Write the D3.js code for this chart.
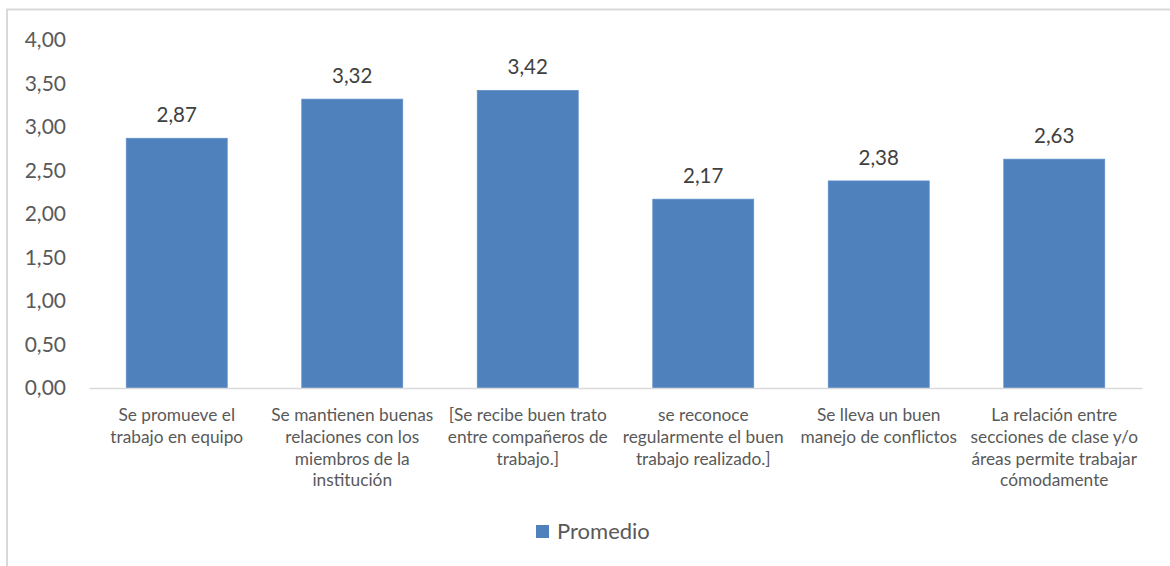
<!DOCTYPE html>
<html>
<head>
<meta charset="utf-8">
<script src="https://cdn.jsdelivr.net/npm/d3@7/dist/d3.min.js"></script>
<style>
  html, body { margin: 0; padding: 0; background: #fff; }
  svg { display: block; }
</style>
</head>
<body>
<svg id="chart" width="1170" height="566"></svg>
<script>
// Survey statements and their average scores
const categories = [
  ["Se promueve el", "trabajo en equipo"],
  ["Se mantienen buenas", "relaciones con los", "miembros de la", "institución"],
  ["[Se recibe buen trato", "entre compañeros de", "trabajo.]"],
  ["se reconoce", "regularmente el buen", "trabajo realizado.]"],
  ["Se lleva un buen", "manejo de conflictos"],
  ["La relación entre", "secciones de clase y/o", "áreas permite trabajar", "cómodamente"]
];
const promedio = [2.87, 3.32, 3.42, 2.17, 2.38, 2.63];
const yTicks = [0, 0.5, 1, 1.5, 2, 2.5, 3, 3.5, 4];
const seriesName = "Promedio";

const FONT = "Lato, 'Open Sans', sans-serif";
const svg = d3.select("#chart");
const W = 1170, H = 566;

// chart area frame (top and left edges visible)
svg.append("path")
  .attr("d", `M7,${H} L7,9.5 L${W},9.5`)
  .attr("fill", "none")
  .attr("stroke", "#d9d9d9")
  .attr("stroke-width", 2);

const plot = { left: 89, right: 1142, top: 40, bottom: 388 };

const x = d3.scaleBand()
  .domain(d3.range(categories.length))
  .range([plot.left, plot.right])
  .paddingInner(0.425)
  .paddingOuter(0.2125);

const y = d3.scaleLinear()
  .domain([0, 4])
  .range([plot.bottom, plot.top]);

const fmt = v => d3.format(".2f")(v).replace(".", ",");

// y axis labels
const yAxis = d3.axisLeft(y).tickValues(yTicks).tickFormat(fmt).tickSize(0).tickPadding(0);
const yg = svg.append("g").attr("transform", "translate(66,0)").call(yAxis);
yg.select(".domain").remove();
yg.selectAll("text")
  .attr("font-family", FONT)
  .attr("font-size", 21)
  .attr("fill", "#595959");

// bars
svg.append("g").selectAll("rect")
  .data(promedio)
  .join("rect")
  .attr("x", (d, i) => x(i))
  .attr("y", d => y(d))
  .attr("width", x.bandwidth())
  .attr("height", d => y(0) - y(d))
  .attr("fill", "#4f81bd")
  .attr("stroke", "#5b8cc6")
  .attr("stroke-width", 0.8);

// value labels
svg.append("g").selectAll("text")
  .data(promedio)
  .join("text")
  .attr("x", (d, i) => x(i) + x.bandwidth() / 2)
  .attr("y", d => y(d) - 16)
  .attr("text-anchor", "middle")
  .attr("font-family", FONT)
  .attr("font-size", 20.5)
  .attr("fill", "#404040")
  .text(fmt);

// baseline axis
const xAxis = d3.axisBottom(x).tickSize(0).tickFormat("");
const xg = svg.append("g").attr("transform", `translate(0,${plot.bottom})`).call(xAxis);
xg.select(".domain").attr("stroke", "#d9d9d9").attr("stroke-width", 1.5);

// category labels (multi-line)
const catG = svg.append("g");
categories.forEach((lines, i) => {
  const t = catG.append("text")
    .attr("text-anchor", "middle")
    .attr("font-family", FONT)
    .attr("font-size", 17.3)
    .attr("fill", "#595959");
  lines.forEach((ln, j) => {
    t.append("tspan")
      .attr("x", x(i) + x.bandwidth() / 2)
      .attr("y", plot.bottom + 33 + j * 21.8)
      .text(ln);
  });
});

// legend
const lg = svg.append("g").attr("transform", "translate(536,525)");
lg.append("rect").attr("width", 13).attr("height", 13).attr("fill", "#4f81bd");
lg.append("text")
  .attr("x", 21).attr("y", 14)
  .attr("font-family", FONT)
  .attr("font-size", 22)
  .attr("fill", "#595959")
  .text(seriesName);
</script>
</body>
</html>
